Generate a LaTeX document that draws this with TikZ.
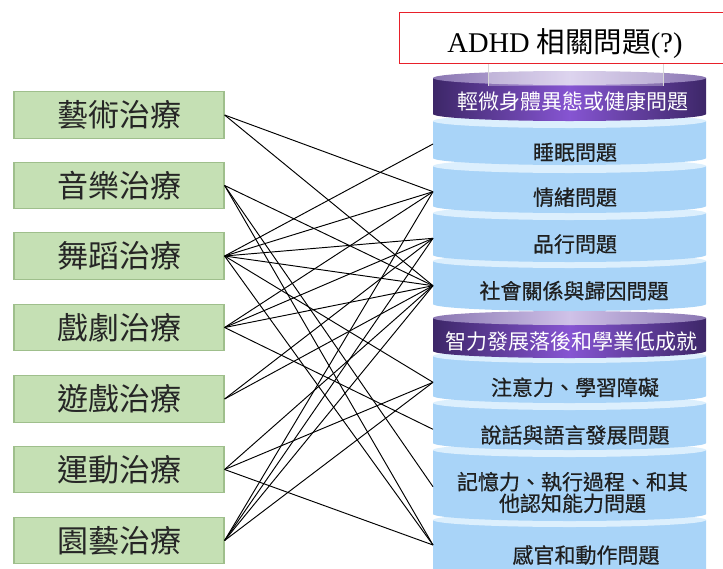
\documentclass[tikz,border=0pt]{standalone}
\usepackage{fontspec}
\setmainfont{Liberation Serif}
\newfontfamily\cjk{Noto Sans CJK TC}
\newfontfamily\cjkm[FakeBold=0.6]{Noto Sans CJK TC}
\definecolor{boxfill}{HTML}{C5E0B4}
\definecolor{boxline}{HTML}{9FBF8C}
\definecolor{cylblue}{HTML}{A9D4F8}
\definecolor{cyltop}{HTML}{DCEFFD}
\definecolor{purdark}{HTML}{3D2768}
\definecolor{purmid}{HTML}{8655D2}
\definecolor{purtopdark}{HTML}{8A76B2}
\definecolor{purtoplight}{HTML}{CFC2E8}
\definecolor{titlered}{HTML}{E8202A}
\newcommand{\bseg}[2]{%
  \fill[cylblue] (433,#1) -- (433,#2) arc[start angle=180,end angle=0,x radius=136.5,y radius=7] -- (706,#1) -- cycle;
  \fill[cyltop] (569.5,#1) ellipse[x radius=136.5,y radius=7];
}
\newcommand{\pseg}[2]{%
  \shade[left color=purdark,right color=purdark,middle color=purmid] (433,#1) -- (433,#2) arc[start angle=180,end angle=0,x radius=136.5,y radius=7] -- (706,#1) -- cycle;
  \shade[left color=purtopdark,right color=purtopdark,middle color=purtoplight] (569.5,#1) ellipse[x radius=136.5,y radius=7];
}
\begin{document}
\begin{tikzpicture}[x=1pt,y=-1pt,
  tbox/.style={draw=boxline,line width=1.2pt,fill=boxfill,minimum width=210pt,minimum height=46.6pt,inner sep=0pt,font=\cjk\fontsize{31}{31}\selectfont,text=black!85},
  stxt/.style={font=\cjkm\fontsize{21}{21.6}\selectfont,text=black!88,align=center,inner sep=0pt},
  ptxt/.style={font=\cjk\fontsize{21}{21.6}\selectfont,text=white,inner sep=0pt},
  link/.style={draw=black,line width=0.95pt}]
\useasboundingbox (0,0) rectangle (723,568);
\clip (0,0) rectangle (723,568);

% stack, drawn from bottom to top
\bseg{520}{600}
\bseg{450}{514}
\bseg{403}{443}
\bseg{356}{396}
\pseg{318}{351}
\bseg{261}{304}
\bseg{213}{255}
\bseg{166}{206}
\bseg{121}{158}
\pseg{78}{114}

% translucent column below title
\fill[white,opacity=0.3] (488,63) rectangle (663,86);
\draw[black!15,line width=0.5pt] (488,63) -- (488,86) (663,63) -- (663,86);

% title
\draw[titlered,line width=1.3pt,fill=white] (399.3,12.7) rectangle (730,63.3);
\node[anchor=base,inner sep=0pt,font=\fontsize{28.5}{30}\selectfont] (title) at (565,52) {ADHD {\cjk 相關問題}(?)};

% stack texts
\node[ptxt] (p1) at (573,101.7) {輕微身體異態或健康問題};
\node[stxt] (t1) at (575,152.3) {睡眠問題};
\node[stxt] (t2) at (575,197.3) {情緒問題};
\node[stxt] (t3) at (575,244) {品行問題};
\node[stxt] (t4) at (574,290.7) {社會關係與歸因問題};
\node[ptxt] (p2) at (571.5,341.7) {智力發展落後和學業低成就};
\node[stxt] (t5) at (575,387.3) {注意力、學習障礙};
\node[stxt] (t6) at (575,435) {說話與語言發展問題};
\node[stxt] (t7) at (572.5,492.5) {記憶力、執行過程、和其\\他認知能力問題};
\node[stxt] (t8) at (586,555) {感官和動作問題};

% connection points on the stack
\coordinate (sleep) at (433,144);
\coordinate (emo) at (433,191.7);
\coordinate (cond) at (433,238.3);
\coordinate (soc) at (433,285.7);
\coordinate (att) at (433,382.3);
\coordinate (speech) at (433,429.3);
\coordinate (mem) at (433,486.7);
\coordinate (sens) at (433,545);

% therapy boxes
\node[tbox] (art) at (119,115) {藝術治療};
\node[tbox] (mus) at (119,185.5) {音樂治療};
\node[tbox] (dan) at (119,256) {舞蹈治療};
\node[tbox] (dra) at (119,327.5) {戲劇治療};
\node[tbox] (play) at (119,399) {遊戲治療};
\node[tbox] (ex) at (119,469.5) {運動治療};
\node[tbox] (hort) at (119,540.5) {園藝治療};

% connectors
\foreach \a/\b in {art/emo,art/soc,
  mus/soc,mus/mem,mus/sens,
  dan/sleep,dan/emo,dan/cond,dan/soc,dan/att,dan/sens,
  dra/emo,dra/cond,dra/soc,dra/speech,
  play/cond,play/soc,
  ex/soc,ex/att,ex/sens,
  hort/emo,hort/cond,hort/soc,hort/att}
  \draw[link] (\a.east) -- (\b);
\end{tikzpicture}
\end{document}
